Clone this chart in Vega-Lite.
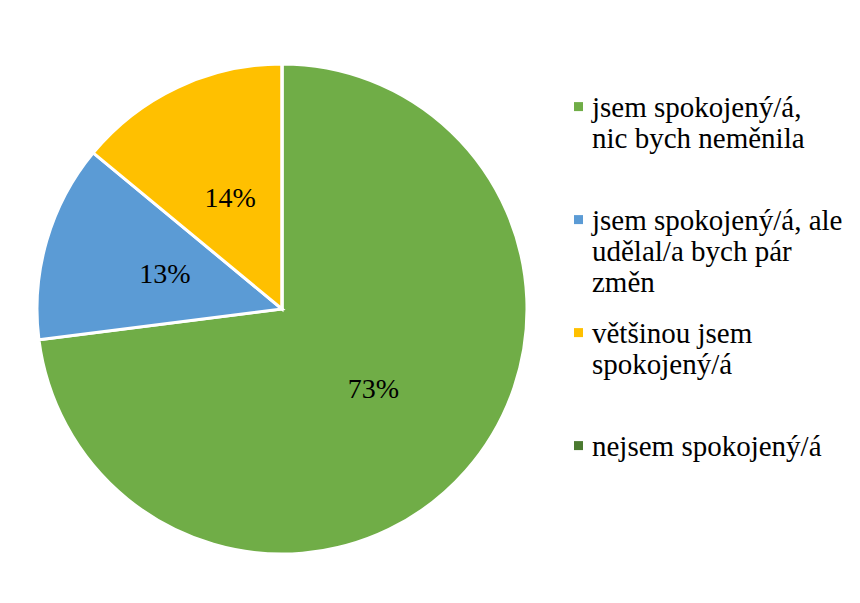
{
  "$schema": "https://vega.github.io/schema/vega-lite/v6.json",
  "autosize": "none",
  "width": 490,
  "height": 490,
  "padding": {"left": 37, "top": 64, "right": 333, "bottom": 49},
  "background": "white",
  "config": {"view": {"stroke": null}, "font": "Liberation Serif"},
  "data": {
    "values": [
      {"cat": "jsem spokojený/á,|nic bych neměnila", "p": 0.73, "k": 1},
      {"cat": "jsem spokojený/á, ale|udělal/a bych pár|změn", "p": 0.13, "k": 2},
      {"cat": "většinou jsem|spokojený/á", "p": 0.14, "k": 3},
      {"cat": "nejsem spokojený/á", "p": 0, "k": 4}
    ]
  },
  "encoding": {
    "theta": {"field": "p", "type": "quantitative", "stack": true},
    "order": {"field": "k", "type": "quantitative"}
  },
  "layer": [
    {
      "mark": {"type": "arc", "stroke": "white", "strokeWidth": 3},
      "encoding": {
        "color": {
          "field": "cat",
          "type": "nominal",
          "scale": {
            "domain": [
              "jsem spokojený/á,|nic bych neměnila",
              "jsem spokojený/á, ale|udělal/a bych pár|změn",
              "většinou jsem|spokojený/á",
              "nejsem spokojený/á"
            ],
            "range": ["#70AD47", "#5B9BD5", "#FFC000", "#4B7A30"]
          },
          "legend": {
            "title": null,
            "orient": "none",
            "legendX": 527,
            "legendY": 38,
            "padding": 0,
            "symbolType": "M-1,-3.2H1V-1.2H-1Z",
            "symbolSize": 81,
            "symbolStrokeWidth": 0,
            "labelFont": "Liberation Serif",
            "labelFontSize": 29,
            "labelColor": "black",
            "labelBaseline": "alphabetic",
            "labelLineHeight": 35,
            "labelOffset": -1,
            "labelLimit": 400,
            "rowPadding": 21,
            "labelExpr": "slice(split(datum.label + '||', '|'), 0, 3)"
          }
        }
      }
    },
    {
      "transform": [{"filter": "datum.p > 0"}],
      "mark": {
        "type": "text",
        "radius": 122,
        "font": "Liberation Serif",
        "fontSize": 28,
        "color": "black",
        "baseline": "middle",
        "align": "center"
      },
      "encoding": {
        "text": {"field": "p", "type": "quantitative", "format": ".0%"}
      }
    }
  ]
}
